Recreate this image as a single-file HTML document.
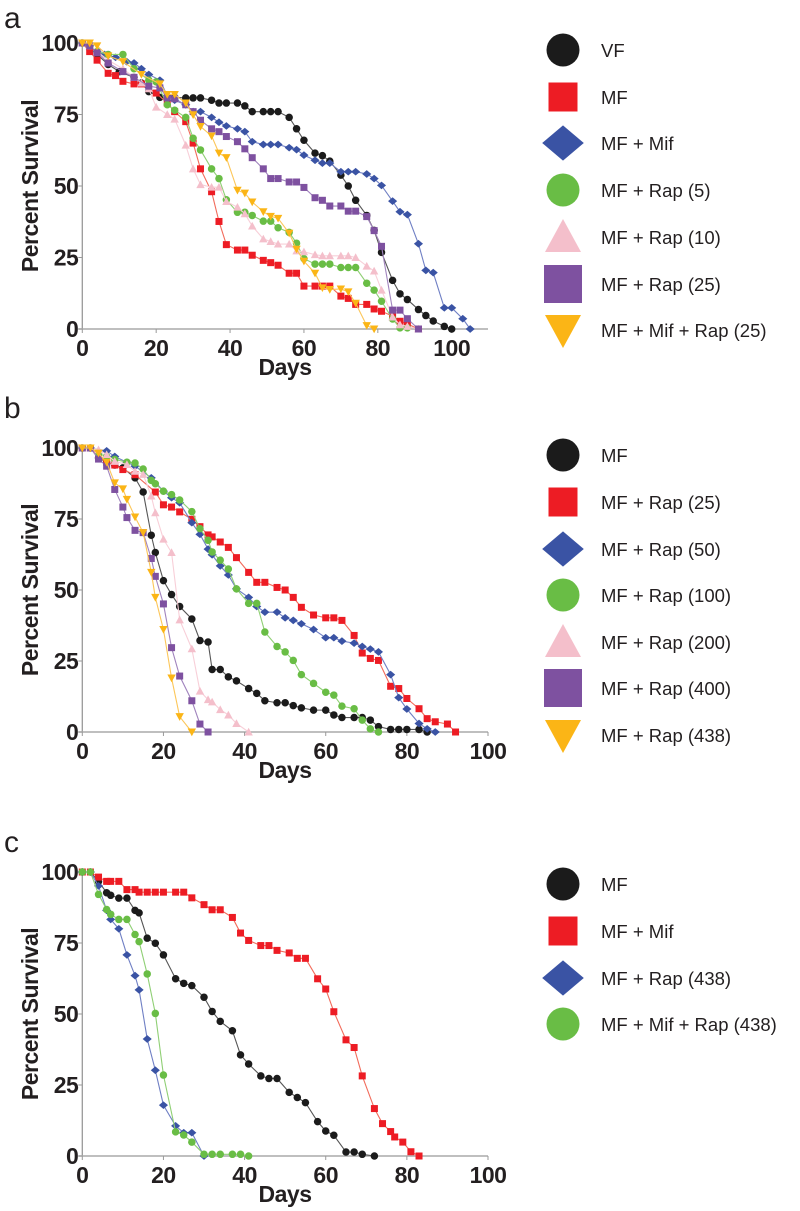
<!DOCTYPE html>
<html><head><meta charset="utf-8"><style>
body{margin:0;background:#fff;}
svg{display:block;font-family:"Liberation Sans",sans-serif;}
.tk{font-size:23px;font-weight:bold;fill:#231f20;letter-spacing:-0.5px;}
.lg{font-size:18.5px;fill:#231f20;}
</style></head><body>
<svg id="fig" width="800" height="1211" viewBox="0 0 800 1211"></svg>
<script>
// ---------- Panel A data ----------
const aNames=["VF","MF","MF + Mif","MF + Rap (5)","MF + Rap (10)","MF + Rap (25)","MF + Mif + Rap (25)"];
const aVFd=[0,2,4,7,10,14,16,18,21,25,28,30,32,35,37,39,42,44,46,49,51,53,56,58,60,63,65,67,70,72,74,77,79,81,84,86,88,91,93,95,98,100];
const aVFv=[100,98,96,92.5,90,88,86,83,81,81,80.8,80.8,80.8,80,79,79,79,78,76,76,76,76,74,70,66,61.5,60.6,58.7,53.8,50,45,39.7,34.5,26.8,17,12.3,10.3,6.8,4.7,2.8,0.9,0];
const aMFd=[0,2,4,7,9,11,14,16,20,23,25,28,30,32,35,37,39,42,44,46,49,51,53,56,58,60,63,65,67,70,72,74,77,79,81,84,86,88,91];
const aMFv=[100,97,94,89.4,88.6,86.6,85.7,85.7,82.5,79,76,72.5,65,56,48,37.6,29.5,27.6,27.6,25.8,24,23.2,22.3,19.5,19.5,15,15,15,15,11.5,10.7,8.6,8.6,7,6.2,4.5,2.7,1.8,0];
const aMifd=[0,2,4,6,9,12,14,16,18,21,23,25,28,30,32,35,37,39,42,44,46,49,51,53,56,58,60,63,65,67,70,72,74,77,79,81,84,86,88,91,93,95,98,100,103,105];
const aMifv=[100,99,97,96,95,93.5,93,91,89,87,81.6,80,78.4,76,76,74,72.3,71,70,69,65.5,64.5,64.5,64.5,63.4,62.7,60.8,59,58,58,55,55,55,54.2,52.6,50.2,44.7,41,40,29.8,20.5,19.7,7.4,7.4,3.6,0];
const aR5d=[0,2,4,7,11,14,18,20,23,25,28,30,32,35,37,39,42,44,46,49,51,53,56,58,60,63,65,67,70,72,74,77,79,81,84,86,88];
const aR5v=[100,99,97,96,96,91,87,86.4,78.4,76.5,74,66.7,62.6,56,52.6,45.2,40.8,40.8,39.7,37.7,37.7,35.4,33.8,30,24.6,22.7,22.7,22.7,21.5,21.5,21.5,16,13.6,9.7,3.5,0.4,0.4];
const aR10d=[0,2,4,7,11,14,16,18,20,23,25,28,30,32,35,37,39,42,44,46,49,51,53,56,58,60,63,65,67,70,72,74,77,79,81,84,86,88,91];
const aR10v=[100,99,97,94,91,88,86,84,77.6,75,73.4,64.3,56,50.5,49.6,49.6,44.6,42.6,40.3,36,31.5,30.6,29.7,29.7,27.3,27,26,25.6,25.6,25.6,25.6,25,22,20.3,13.6,4.2,1.5,0.9,0];
const aR25d=[0,2,4,7,11,14,18,21,23,25,28,30,32,35,37,39,42,44,46,49,51,53,56,58,60,63,65,67,70,72,74,77,79,81,84,86,88,91];
const aR25v=[100,99,96.6,93,90,88,84.9,84.3,80.8,80.5,78.4,76,73,70,69,67.3,65.5,63,59.9,56,52.6,52.6,51.4,51.4,49.5,45.9,45,43,43,41.2,41.2,39.3,34.4,28.9,6.6,6.6,3.6,0];
const aMRd=[0,2,4,7,11,16,21,23,25,28,30,32,35,37,39,42,44,46,49,51,53,56,58,60,63,65,67,70,72,74,77,79];
const aMRv=[100,100,99,95.5,93.5,89,85.7,82,82,79,74.9,70.8,67.5,61.5,59.9,48.5,47.5,44.4,41,39.4,38.7,33.5,27.9,23.7,19.5,14.4,13.8,14,13,9,1.2,0];
// ---------- Panel B data ----------
const bNames=["MF","MF + Rap (25)","MF + Rap (50)","MF + Rap (100)","MF + Rap (200)","MF + Rap (400)","MF + Rap (438)"];
const bMFd=[0,2,4,6,8,10,13,15,17,18,20,22,24,27,29,31,32,34,36,38,41,43,45,48,50,52,54,57,60,62,64,67,69,71,73,76,78,80,83,85];
const bMFv=[100,100,96.5,95,94,93,89.5,84.5,69.3,63.2,53.3,48.4,44.2,39.8,32.2,31.7,22,22,19.4,18,15.3,13.6,11,10.3,10.3,9.3,8.5,7.7,7.7,6,5.1,5.1,5.1,4.2,1.9,0.9,0.9,0.9,0.9,0];
const bR25d=[0,2,4,6,8,10,13,18,20,22,24,27,29,31,32,34,36,38,41,43,45,48,50,52,54,57,60,62,64,67,69,71,73,76,78,80,83,85,87,90,92];
const bR25v=[100,100,97,95,94,92.4,90.6,84.5,80,79.2,77.5,74.9,72.3,69.4,68.7,66.9,65,61.4,56.2,52.7,52.7,50.9,50,47.4,43.9,41.2,40.2,40.2,39.3,34,27.8,25.9,25.2,16.1,15.3,11.8,8.2,4.7,3.6,2.8,0];
const bR50d=[0,2,6,8,11,13,17,20,22,24,27,29,31,32,34,36,38,41,43,45,48,50,52,54,57,60,62,64,67,69,71,73,76,78,80,83,85,87];
const bR50v=[100,100,99,97,95,93.6,89.5,84.8,82.5,80.7,73.7,69.6,64.4,62.4,58.5,55.3,50.4,47.4,44.2,42.2,42.2,40.2,39.3,38.1,36.1,33.2,33.2,32,31.3,30.1,29.2,28.2,20.2,12.1,8.1,3,1.1,0];
const bR100d=[0,2,4,6,8,11,13,15,17,18,20,22,24,27,29,31,32,34,36,38,41,43,45,48,50,52,54,57,60,62,64,67,69,71,73];
const bR100v=[100,100,98,97,96,95,94.7,92.6,88.6,87.4,84.8,83.6,81.7,77.6,71.6,67.5,63.4,60.5,57.4,50.4,45.3,45.3,35.2,30.1,28.2,25.2,20.2,17.1,14,13,9.1,8.2,4.2,1.1,0];
const bR200d=[0,2,4,6,8,11,13,15,17,18,20,22,24,27,29,31,32,34,36,38,41];
const bR200v=[100,100,99.4,97.7,95.3,94.2,91.8,90.7,83.1,77.2,67.9,63.2,39.5,29.3,14.4,11.4,10.6,7.9,6,3,0];
const bR400d=[0,2,4,6,8,10,11,13,15,17,18,20,22,24,27,29,31];
const bR400v=[100,100,96.1,93.6,85.4,79.2,75.5,71,70.2,61.1,54.8,45.1,29.7,19.7,11,2.8,0];
const bR438d=[0,2,4,6,8,10,11,13,15,17,18,20,22,24,27];
const bR438v=[100,100,98.2,95,87.7,85.6,81.9,75.7,70.2,56.2,47.4,36.1,19,5.4,0];
// ---------- Panel C data ----------
const cNames=["MF","MF + Mif","MF + Rap (438)","MF + Mif + Rap (438)"];
const cMFd=[0,2,4,6,7,9,11,13,14,16,18,20,23,25,27,30,32,34,37,39,41,44,46,48,51,53,55,58,60,62,65,67,69,72];
const cMFv=[100,100,96.7,92.7,91.8,90.8,90.8,86.5,85.6,76.7,74.9,70.8,62.4,60.8,60,55.9,50.9,47.4,44.1,35.6,32.4,28.2,27.3,27.3,22.4,20.6,18.8,12.1,8.8,7.3,1.4,1.4,0.6,0];
const cMifd=[0,2,4,6,7,9,11,13,14,16,18,20,23,25,27,30,32,34,37,39,41,44,46,48,51,53,55,58,60,62,65,67,69,72,74,76,77,79,81,83];
const cMifv=[100,100,98.2,96.7,96.7,96.7,93.8,93.8,92.9,92.9,92.9,92.9,92.9,92.9,90.9,88.5,86.7,86.7,84,78.5,75.9,74.1,74.1,72.4,71.5,69.6,69.6,62.4,58.8,50.8,40.9,38.2,28.2,16.7,11.4,8.6,6.7,4.9,1.5,0];
const cRapd=[0,2,4,6,7,9,11,13,14,16,18,20,23,25,27,30];
const cRapv=[100,100,95.1,86.5,83.3,80,70.8,63.5,58.5,41.2,30.2,17.9,10.6,8.2,8.2,0];
const cMRd=[0,2,4,6,7,9,11,13,14,16,18,20,23,25,27,30,32,34,37,39,41];
const cMRv=[100,100,92.1,86.8,85.1,83.3,83.3,78,75.5,64.1,50.2,28.5,8.5,7.4,4.9,0.6,0.6,0.6,0.6,0.6,0];
const xTicks=[0,20,40,60,80,100];
const yTicks=[0,25,50,75,100];

const NS="http://www.w3.org/2000/svg";
const svg=document.getElementById('fig');
function mk(tag,attrs,parent){const e=document.createElementNS(NS,tag);for(const k in attrs)e.setAttribute(k,attrs[k]);(parent||svg).appendChild(e);return e;}
const COL={black:"#1b1b1b",red:"#ed1c24",blue:"#3a53a4",green:"#69bd45",pink:"#f4bfcb",purple:"#7e51a0",orange:"#fbb516"};
const LINE={black:"#555",red:"#f26b5b",blue:"#6f7fc4",green:"#8fcf74",pink:"#f8cfd8",purple:"#a083bd",orange:"#fcc659"};
function marker(g,shape,cx,cy,s,fill){
  if(shape==='circle')return mk('circle',{cx:cx,cy:cy,r:s/2,fill:fill},g);
  if(shape==='square')return mk('rect',{x:cx-s/2,y:cy-s/2,width:s,height:s,fill:fill},g);
  if(shape==='diamond')return mk('polygon',{points:`${cx},${cy-s*0.55} ${cx+s*0.65},${cy} ${cx},${cy+s*0.55} ${cx-s*0.65},${cy}`,fill:fill},g);
  if(shape==='tri')return mk('polygon',{points:`${cx},${cy-s*0.6} ${cx+s*0.6},${cy+s*0.5} ${cx-s*0.6},${cy+s*0.5}`,fill:fill},g);
  if(shape==='tridown')return mk('polygon',{points:`${cx-s*0.6},${cy-s*0.5} ${cx+s*0.6},${cy-s*0.5} ${cx},${cy+s*0.6}`,fill:fill},g);
}
function panel(p){
  const X=d=>p.x0+d*p.kx, Y=v=>p.y0-v*(p.y0-p.y100)/100;
  const g=mk('g',{});
  
  
  const lt=mk('text',{x:4,y:p.letterY,'font-size':30,fill:'#231f20'},g);lt.textContent=p.id;
  
  
  const ax=mk('g',{},g);
  
  
  mk('line',{x1:p.x0,y1:p.y100-2,x2:p.x0,y2:p.y0,stroke:'#999','stroke-width':1.3},ax);
  mk('line',{x1:p.x0-4,y1:p.y0,x2:p.xEnd,y2:p.y0,stroke:'#aaa','stroke-width':1.5},ax);
  xTicks.forEach(t=>{
    mk('line',{x1:X(t),y1:p.y0,x2:X(t),y2:p.y0+4,stroke:'#999'},ax);
    const tx=mk('text',{x:X(t),y:p.y0+27,'text-anchor':'middle',class:'tk'},ax);tx.textContent=t;
    
    
  });
  yTicks.forEach(t=>{
    mk('line',{x1:p.x0-4,y1:Y(t),x2:p.x0,y2:Y(t),stroke:'#999'},ax);
    const ty=mk('text',{x:p.x0-4,y:Y(t)+8,'text-anchor':'end',class:'tk'},ax);ty.textContent=t;
    
    
  });
  const xt=mk('text',{x:285,y:p.y0+46,'text-anchor':'middle',class:'tk'},ax);xt.textContent='Days';
  
  
  const ym=(p.y0+p.y100)/2;
  const yt=mk('text',{x:0,y:0,'text-anchor':'middle',class:'tk',transform:`translate(38,${ym}) rotate(-90)`},ax);yt.textContent='Percent Survival';
  
  
  p.series.forEach((s,i)=>{
    const sg=mk('g',{},g);
    
    
    mk('polyline',{points:s.d.map((d,j)=>X(d)+','+Y(s.v[j])).join(' '),fill:'none',stroke:LINE[s.c],'stroke-width':1.1},sg);
    s.d.forEach((d,j)=>{
      const m=marker(sg,s.shape,X(d),Y(s.v[j]),s.shape==='circle'?7.5:7,COL[s.c]);
      
      
    });
    const le=mk('g',{},g);
    
    
    const ly=p.legY[i];
    marker(le,s.lshape||s.shape,563,ly,s.lsize||30,COL[s.c]);
    const lt2=mk('text',{x:601,y:ly+7,class:'lg'},le);lt2.textContent=s.name;
  });
}
panel({id:'a',x0:82.3,kx:3.694,y0:329,y100:43,xEnd:488,letterY:28,legY:[50,97,143,190,237,284,330],
 series:[
  {name:aNames[0],d:aVFd,v:aVFv,c:'black',shape:'circle',lsize:33},
  {name:aNames[1],d:aMFd,v:aMFv,c:'red',shape:'square',lsize:29},
  {name:aNames[2],d:aMifd,v:aMifv,c:'blue',shape:'diamond',lsize:32},
  {name:aNames[3],d:aR5d,v:aR5v,c:'green',shape:'circle',lsize:33},
  {name:aNames[4],d:aR10d,v:aR10v,c:'pink',shape:'tri',lsize:30},
  {name:aNames[5],d:aR25d,v:aR25v,c:'purple',shape:'square',lsize:38},
  {name:aNames[6],d:aMRd,v:aMRv,c:'orange',shape:'tridown',lsize:30}]});
panel({id:'b',x0:82.3,kx:4.057,y0:732,y100:448,xEnd:488,letterY:418,legY:[455,502,549,595,642,688,735],
 series:[
  {name:bNames[0],d:bMFd,v:bMFv,c:'black',shape:'circle',lsize:33},
  {name:bNames[1],d:bR25d,v:bR25v,c:'red',shape:'square',lsize:29},
  {name:bNames[2],d:bR50d,v:bR50v,c:'blue',shape:'diamond',lsize:32},
  {name:bNames[3],d:bR100d,v:bR100v,c:'green',shape:'circle',lsize:33},
  {name:bNames[4],d:bR200d,v:bR200v,c:'pink',shape:'tri',lsize:30},
  {name:bNames[5],d:bR400d,v:bR400v,c:'purple',shape:'square',lsize:38},
  {name:bNames[6],d:bR438d,v:bR438v,c:'orange',shape:'tridown',lsize:30}]});
panel({id:'c',x0:82.3,kx:4.057,y0:1156,y100:872,xEnd:488,letterY:852,legY:[884,931,978,1024],
 series:[
  {name:cNames[0],d:cMFd,v:cMFv,c:'black',shape:'circle',lsize:33},
  {name:cNames[1],d:cMifd,v:cMifv,c:'red',shape:'square',lsize:29},
  {name:cNames[2],d:cRapd,v:cRapv,c:'blue',shape:'diamond',lsize:32},
  {name:cNames[3],d:cMRd,v:cMRv,c:'green',shape:'circle',lsize:33}]});
</script>
</body></html>
